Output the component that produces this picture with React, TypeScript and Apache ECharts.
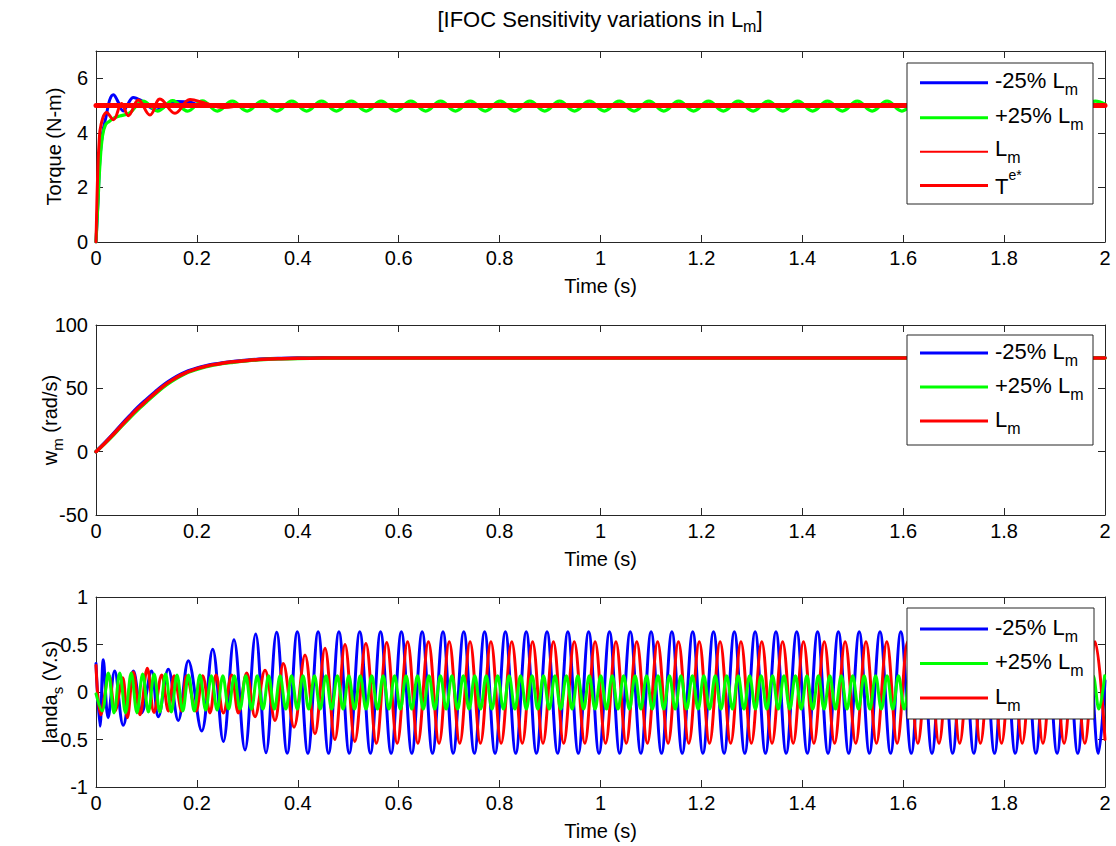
import React, { useEffect, useRef } from "react";
import * as echarts from "echarts";

const FONT = '"Liberation Sans", Arial, Helvetica, sans-serif';
const AXIS_COLOR = "#262626";

// ---------- tick labels ----------
const timeTicks = [0, 0.2, 0.4, 0.6, 0.8, 1, 1.2, 1.4, 1.6, 1.8, 2];
const torqueTicks = [0, 2, 4, 6];
const torqueAxisMax = 7;
const speedTicks = [-50, 0, 50, 100];
const landaTicks = [-1, -0.5, 0, 0.5, 1];

// ---------- panel 1 : torque (N-m) ----------
const torqueRef: [number, number][] = [[0, 5], [2, 5]];
const torqueMinus25: [number, number][] = [
  [0, 0], [0.004, 1.5], [0.008, 3.1], [0.013, 4.0], [0.02, 4.6], [0.027, 5.2], [0.0344, 5.4],
  [0.042, 5.2], [0.0542, 4.8], [0.063, 5.05], [0.074, 5.3], [0.088, 5.2], [0.1, 5.02],
  [0.1203, 4.84], [0.14, 5.0], [0.16, 5.15], [0.1863, 5.12], [0.2061, 5.0], [0.23, 4.97],
  [0.27, 5.02], [0.35, 5.0], [2, 5.0],
];
const torquePlus25: [number, number][] = [
  [0, 0], [0.004, 1.5], [0.008, 2.9], [0.013, 3.9], [0.019, 4.3], [0.026, 4.42], [0.036, 4.55],
  [0.047, 4.62], [0.066, 4.72], [0.093, 5.16], [0.1225, 4.8], [0.152, 5.18], [0.1815, 4.8],
  [0.211, 5.17], [0.2405, 4.8], [0.27, 5.16], [0.2995, 4.8], [0.329, 5.16], [0.3585, 4.8],
  [0.388, 5.16], [0.4175, 4.8], [0.447, 5.16], [0.4765, 4.8], [0.506, 5.16], [0.5355, 4.8],
  [0.565, 5.16], [0.5945, 4.8], [0.624, 5.16], [0.6535, 4.8], [0.683, 5.16], [0.7125, 4.8],
  [0.742, 5.16], [0.7715, 4.8], [0.801, 5.16], [0.8305, 4.8], [0.86, 5.16], [0.8895, 4.8],
  [0.919, 5.16], [0.9485, 4.8], [0.978, 5.16], [1.0075, 4.8], [1.037, 5.16], [1.0665, 4.8],
  [1.096, 5.16], [1.1255, 4.8], [1.155, 5.16], [1.1845, 4.8], [1.214, 5.16], [1.2435, 4.8],
  [1.273, 5.16], [1.3025, 4.8], [1.332, 5.16], [1.3615, 4.8], [1.391, 5.16], [1.4205, 4.8],
  [1.45, 5.16], [1.4795, 4.8], [1.509, 5.16], [1.5385, 4.8], [1.568, 5.16], [1.5975, 4.8],
  [1.627, 5.16], [1.6565, 4.8], [1.686, 5.16], [1.7155, 4.8], [1.745, 5.16], [1.7745, 4.8],
  [1.804, 5.16], [1.8335, 4.8], [1.863, 5.16], [1.8925, 4.8], [1.922, 5.16], [1.9515, 4.8],
  [1.981, 5.16], [2, 5.05],
];
const torqueLm: [number, number][] = [
  [0, 0], [0.003, 2.3], [0.006, 3.6], [0.01, 4.3], [0.0211, 4.75], [0.0344, 4.48], [0.0509, 5.08],
  [0.0641, 4.63], [0.0839, 5.2], [0.107, 4.65], [0.1268, 5.24], [0.1566, 4.72], [0.1863, 5.22],
  [0.215, 5.1], [0.2524, 4.93], [0.3, 5.02], [0.36, 5.0], [2, 5.0],
];

// ---------- panel 2 : speed (rad/s) ----------
const speedMinus25: [number, number][] = [
  [0, 0], [0.017, 6.8], [0.034, 14], [0.05, 21.2], [0.067, 28.4], [0.083, 35], [0.1, 41.2],
  [0.117, 47.1], [0.133, 52.4], [0.15, 57], [0.167, 60.8], [0.183, 63.7], [0.2, 66], [0.217, 67.7],
  [0.233, 69], [0.25, 70.1], [0.267, 70.9], [0.3, 72.2], [0.333, 73.1], [0.367, 73.6], [0.4, 73.9],
  [0.45, 74.1], [0.5, 74.2], [1, 74.2], [1.5, 74.2], [2, 74.2],
];
const speedPlus25: [number, number][] = [
  [0, 0], [0.017, 6.2], [0.034, 13], [0.05, 19.8], [0.067, 26.8], [0.083, 33.2], [0.1, 39.3],
  [0.117, 45.3], [0.133, 50.8], [0.15, 55.6], [0.167, 59.6], [0.183, 62.7], [0.2, 65], [0.217, 66.9],
  [0.233, 68.3], [0.25, 69.5], [0.267, 70.4], [0.3, 71.8], [0.333, 72.7], [0.367, 73.3], [0.4, 73.6],
  [0.45, 73.8], [0.5, 73.9], [1, 73.9], [1.5, 73.9], [2, 73.9],
];
const speedLm: [number, number][] = [
  [0, 0], [0.017, 6.5], [0.034, 13.5], [0.05, 20.5], [0.067, 27.6], [0.083, 34], [0.1, 40.2],
  [0.117, 46.2], [0.133, 51.6], [0.15, 56.3], [0.167, 60.2], [0.183, 63.2], [0.2, 65.5], [0.217, 67.3],
  [0.233, 68.7], [0.25, 69.8], [0.267, 70.7], [0.3, 72], [0.333, 72.9], [0.367, 73.4], [0.4, 73.7],
  [0.45, 73.9], [0.5, 74], [1, 74], [1.5, 74], [2, 74],
];

// ---------- panel 3 : stator flux landa_s (V.s), extrema ----------
const landaMinus25: [number, number][] = [
  [0, 0.3], [0.008, -0.36], [0.0145, 0.34], [0.024, -0.27], [0.037, 0.22], [0.054, -0.35],
  [0.074, 0.22], [0.0905, -0.22], [0.11, 0.22], [0.1235, -0.26], [0.1433, 0.24], [0.163, -0.3],
  [0.183, 0.33], [0.2095, -0.41], [0.2313, 0.45], [0.2524, -0.52], [0.2735, 0.55], [0.2953, -0.61],
  [0.3165, 0.61], [0.337, -0.64], [0.358, 0.63], [0.379, -0.645], [0.399, 0.635], [0.42, -0.645],
  [0.4403, 0.635], [0.461, -0.645], [0.4815, 0.635], [0.502, -0.645], [0.5228, 0.635], [0.544, -0.645],
  [0.564, 0.635], [0.585, -0.645], [0.6053, 0.635], [0.626, -0.645], [0.6465, 0.635], [0.667, -0.645],
  [0.6878, 0.635], [0.708, -0.645], [0.729, 0.635], [0.75, -0.645], [0.7703, 0.635], [0.791, -0.645],
  [0.8115, 0.635], [0.832, -0.645], [0.8528, 0.635], [0.873, -0.645], [0.894, 0.635], [0.915, -0.645],
  [0.9353, 0.635], [0.956, -0.645], [0.9765, 0.635], [0.997, -0.645], [1.0178, 0.635], [1.038, -0.645],
  [1.059, 0.635], [1.08, -0.645], [1.1003, 0.635], [1.121, -0.645], [1.1415, 0.635], [1.162, -0.645],
  [1.1828, 0.635], [1.203, -0.645], [1.224, 0.635], [1.245, -0.645], [1.2653, 0.635], [1.286, -0.645],
  [1.3065, 0.635], [1.327, -0.645], [1.3478, 0.635], [1.368, -0.645], [1.389, 0.635], [1.41, -0.645],
  [1.4303, 0.635], [1.451, -0.645], [1.4715, 0.635], [1.492, -0.645], [1.5128, 0.635], [1.533, -0.645],
  [1.554, 0.635], [1.575, -0.645], [1.5953, 0.635], [1.616, -0.645], [1.6365, 0.635], [1.657, -0.645],
  [1.6778, 0.635], [1.698, -0.645], [1.719, 0.635], [1.74, -0.645], [1.7603, 0.635], [1.781, -0.645],
  [1.8015, 0.635], [1.822, -0.645], [1.8428, 0.635], [1.863, -0.645], [1.884, 0.635], [1.905, -0.645],
  [1.9253, 0.635], [1.946, -0.645], [1.9665, 0.635], [1.987, -0.645], [2, 0.12],
];
const landaPlus25: [number, number][] = [
  [0, -0.02], [0.012, -0.2], [0.0244, 0.2], [0.0358, -0.22], [0.0471, 0.2], [0.0585, -0.22],
  [0.0698, 0.2], [0.0812, -0.22], [0.0925, 0.19], [0.1039, -0.21], [0.1152, 0.19], [0.1266, -0.21],
  [0.1379, 0.19], [0.1493, -0.21], [0.1606, 0.18], [0.172, -0.2], [0.1833, 0.18], [0.1947, -0.2],
  [0.206, 0.18], [0.2174, -0.19], [0.2287, 0.17], [0.2401, -0.19], [0.2514, 0.17], [0.2628, -0.18],
  [0.2741, 0.17], [0.2855, -0.18], [0.2968, 0.17], [0.3082, -0.18], [0.3195, 0.17], [0.3309, -0.18],
  [0.3422, 0.17], [0.3536, -0.18], [0.3649, 0.17], [0.3763, -0.18], [0.3876, 0.17], [0.399, -0.18],
  [0.4103, 0.17], [0.4217, -0.18], [0.433, 0.17], [0.4444, -0.18], [0.4557, 0.17], [0.4671, -0.18],
  [0.4784, 0.17], [0.4898, -0.18], [0.5011, 0.17], [0.5125, -0.18], [0.5238, 0.17], [0.5352, -0.18],
  [0.5465, 0.17], [0.5579, -0.18], [0.5692, 0.17], [0.5806, -0.18], [0.5919, 0.17], [0.6033, -0.18],
  [0.6146, 0.17], [0.626, -0.18], [0.6373, 0.17], [0.6487, -0.18], [0.66, 0.17], [0.6714, -0.18],
  [0.6827, 0.17], [0.6941, -0.18], [0.7054, 0.17], [0.7168, -0.18], [0.7281, 0.17], [0.7395, -0.18],
  [0.7508, 0.17], [0.7622, -0.18], [0.7735, 0.17], [0.7849, -0.18], [0.7962, 0.17], [0.8076, -0.18],
  [0.8189, 0.17], [0.8303, -0.18], [0.8416, 0.17], [0.853, -0.18], [0.8643, 0.17], [0.8757, -0.18],
  [0.887, 0.17], [0.8984, -0.18], [0.9097, 0.17], [0.9211, -0.18], [0.9324, 0.17], [0.9438, -0.18],
  [0.9551, 0.17], [0.9665, -0.18], [0.9778, 0.17], [0.9892, -0.18], [1.0005, 0.17], [1.0119, -0.18],
  [1.0232, 0.17], [1.0346, -0.18], [1.0459, 0.17], [1.0573, -0.18], [1.0686, 0.17], [1.08, -0.18],
  [1.0913, 0.17], [1.1027, -0.18], [1.114, 0.17], [1.1254, -0.18], [1.1367, 0.17], [1.1481, -0.18],
  [1.1594, 0.17], [1.1708, -0.18], [1.1821, 0.17], [1.1935, -0.18], [1.2048, 0.17], [1.2162, -0.18],
  [1.2275, 0.17], [1.2389, -0.18], [1.2502, 0.17], [1.2616, -0.18], [1.2729, 0.17], [1.2843, -0.18],
  [1.2956, 0.17], [1.307, -0.18], [1.3183, 0.17], [1.3297, -0.18], [1.341, 0.17], [1.3524, -0.18],
  [1.3637, 0.17], [1.3751, -0.18], [1.3864, 0.17], [1.3978, -0.18], [1.4091, 0.17], [1.4205, -0.18],
  [1.4318, 0.17], [1.4432, -0.18], [1.4545, 0.17], [1.4659, -0.18], [1.4772, 0.17], [1.4886, -0.18],
  [1.4999, 0.17], [1.5113, -0.18], [1.5226, 0.17], [1.534, -0.18], [1.5453, 0.17], [1.5567, -0.18],
  [1.568, 0.17], [1.5794, -0.18], [1.5907, 0.17], [1.6021, -0.18], [1.6134, 0.17], [1.6248, -0.18],
  [1.6361, 0.17], [1.6475, -0.18], [1.6588, 0.17], [1.6702, -0.18], [1.6815, 0.17], [1.6929, -0.18],
  [1.7042, 0.17], [1.7156, -0.18], [1.7269, 0.17], [1.7383, -0.18], [1.7496, 0.17], [1.761, -0.18],
  [1.7723, 0.17], [1.7837, -0.18], [1.795, 0.17], [1.8064, -0.18], [1.8177, 0.17], [1.8291, -0.18],
  [1.8404, 0.17], [1.8518, -0.18], [1.8631, 0.17], [1.8745, -0.18], [1.8858, 0.17], [1.8972, -0.18],
  [1.9085, 0.17], [1.9199, -0.18], [1.9312, 0.17], [1.9426, -0.18], [1.9539, 0.17], [1.9653, -0.18],
  [1.9766, 0.17], [1.988, -0.18], [1.9993, 0.17],
];
const landaLm: [number, number][] = [
  [0, 0.28], [0.0093, -0.24], [0.0258, 0.17], [0.0377, -0.2], [0.0529, 0.15], [0.0621, -0.27],
  [0.074, 0.21], [0.0872, -0.24], [0.1017, 0.25], [0.115, -0.215], [0.1302, 0.18], [0.1434, -0.2],
  [0.155, 0.17], [0.1698, -0.2], [0.1797, 0.17], [0.1982, -0.2], [0.2114, 0.17], [0.226, -0.22],
  [0.2379, 0.18], [0.2524, -0.22], [0.2689, 0.18], [0.2821, -0.22], [0.2987, 0.2], [0.3152, -0.26],
  [0.335, 0.23], [0.3548, -0.3], [0.3713, 0.3], [0.3925, -0.37], [0.4143, 0.39], [0.434, -0.44],
  [0.4539, 0.46], [0.4735, -0.5], [0.4936, 0.5], [0.5131, -0.52], [0.535, 0.51], [0.5557, -0.54],
  [0.5763, 0.52], [0.597, -0.54], [0.6176, 0.53], [0.638, -0.54], [0.6589, 0.53], [0.68, -0.54],
  [0.7002, 0.53], [0.721, -0.54], [0.7415, 0.53], [0.762, -0.54], [0.7828, 0.53], [0.803, -0.54],
  [0.8241, 0.53], [0.845, -0.54], [0.8654, 0.53], [0.886, -0.54], [0.9067, 0.53], [0.927, -0.54],
  [0.948, 0.53], [0.969, -0.54], [0.9893, 0.53], [1.01, -0.54], [1.0306, 0.53], [1.051, -0.54],
  [1.0719, 0.53], [1.093, -0.54], [1.1132, 0.53], [1.134, -0.54], [1.1545, 0.53], [1.175, -0.54],
  [1.1958, 0.53], [1.216, -0.54], [1.2371, 0.53], [1.258, -0.54], [1.2784, 0.53], [1.299, -0.54],
  [1.3197, 0.53], [1.34, -0.54], [1.361, 0.53], [1.382, -0.54], [1.4023, 0.53], [1.423, -0.54],
  [1.4436, 0.53], [1.464, -0.54], [1.4849, 0.53], [1.506, -0.54], [1.5262, 0.53], [1.547, -0.54],
  [1.5675, 0.53], [1.588, -0.54], [1.6088, 0.53], [1.629, -0.54], [1.6501, 0.53], [1.671, -0.54],
  [1.6914, 0.53], [1.712, -0.54], [1.7327, 0.53], [1.753, -0.54], [1.774, 0.53], [1.795, -0.54],
  [1.8153, 0.53], [1.836, -0.54], [1.8566, 0.53], [1.877, -0.54], [1.8979, 0.53], [1.919, -0.54],
  [1.9392, 0.53], [1.96, -0.54], [1.9805, 0.53], [2, -0.5],
];

// ---------- legend labels ----------
const legendMinus = "{a|-25% L}{s|m}";
const legendPlus = "{a|+25% L}{s|m}";
const legendLm = "{a|L}{s|m}";
const legendRef = "{b|T}{p|e*}";

// ---------- layout / styles ----------
const GRIDS = [
  { left: 96, top: 51, width: 1009, height: 191 },
  { left: 96, top: 325, width: 1009, height: 190 },
  { left: 96, top: 597, width: 1009, height: 190 },
];
const BLUE = "#0000ff";
const GREEN = "#00ff00";
const RED = "#ff0000";

const richText = {
  a: { fontSize: 22, fontFamily: FONT, fill: "#000", color: "#000", lineHeight: 34, verticalAlign: "middle" },
  b: { fontSize: 22, fontFamily: FONT, fill: "#000", color: "#000", lineHeight: 38, verticalAlign: "middle" },
  s: { fontSize: 16, fontFamily: FONT, fill: "#000", color: "#000", lineHeight: 14, verticalAlign: "bottom" },
  p: { fontSize: 14, fontFamily: FONT, fill: "#000", color: "#000", lineHeight: 14, verticalAlign: "top" },
};

function App() {
  const ref = useRef<HTMLDivElement>(null);

  useEffect(() => {
    if (!ref.current) return;
    const chart = echarts.init(ref.current, undefined, { renderer: "svg" });

    const yDefs = [
      { min: torqueTicks[0], max: torqueAxisMax, interval: torqueTicks[1] - torqueTicks[0],
        name: "Torque (N-m)", rich: false, gap: 32 },
      { min: speedTicks[0], max: speedTicks[speedTicks.length - 1], interval: speedTicks[1] - speedTicks[0],
        name: "{a|w}{s|m}{a| (rad/s)}", rich: true, gap: 31 },
      { min: landaTicks[0], max: landaTicks[landaTicks.length - 1], interval: landaTicks[1] - landaTicks[0],
        name: "{a|landa}{s|s}{a| (V.s)}", rich: true, gap: 31 },
    ];

    const axisLineStyle = { color: AXIS_COLOR, width: 1 };
    const nameRich = {
      a: { fontSize: 20, fontFamily: FONT, color: "#000", lineHeight: 30 },
      s: { fontSize: 15, fontFamily: FONT, color: "#000", lineHeight: 15, verticalAlign: "bottom" },
    };

    const xMin = timeTicks[0];
    const xMax = timeTicks[timeTicks.length - 1];
    const xStep = timeTicks[1] - timeTicks[0];

    const xBottom = GRIDS.map((_, i) => ({
      type: "value", gridIndex: i, position: "bottom", min: xMin, max: xMax, interval: xStep,
      axisLine: { show: true, onZero: false, lineStyle: axisLineStyle },
      axisTick: { show: true, inside: true, length: 7, lineStyle: axisLineStyle },
      axisLabel: { show: true, fontSize: 20, fontFamily: FONT, color: "#000", margin: 6 },
      splitLine: { show: false },
      name: "Time (s)", nameLocation: "middle", nameGap: 34, nameMoveOverlap: false,
      nameTextStyle: { fontSize: 20, fontFamily: FONT, color: "#000" },
    }));
    const xTop = GRIDS.map((_, i) => ({
      type: "value", gridIndex: i, position: "top", min: xMin, max: xMax, interval: xStep,
      axisLine: { show: true, onZero: false, lineStyle: axisLineStyle },
      axisTick: { show: true, inside: true, length: 7, lineStyle: axisLineStyle },
      axisLabel: { show: false }, splitLine: { show: false },
    }));
    const yLeft = yDefs.map((d, i) => ({
      type: "value", gridIndex: i, position: "left", min: d.min, max: d.max, interval: d.interval,
      axisLine: { show: true, onZero: false, lineStyle: axisLineStyle },
      axisTick: { show: true, inside: true, length: 7, lineStyle: axisLineStyle },
      axisLabel: { show: true, fontSize: 20, fontFamily: FONT, color: "#000", margin: 8, showMaxLabel: i !== 0 },
      splitLine: { show: false },
      name: d.name, nameLocation: "middle", nameGap: d.gap, nameMoveOverlap: false,
      nameTextStyle: d.rich
        ? { fontSize: 20, fontFamily: FONT, color: "#000", rich: nameRich }
        : { fontSize: 20, fontFamily: FONT, color: "#000" },
    }));
    const yRight = yDefs.map((d, i) => ({
      type: "value", gridIndex: i, position: "right", min: d.min, max: d.max, interval: d.interval,
      axisLine: { show: true, onZero: false, lineStyle: axisLineStyle },
      axisTick: { show: true, inside: true, length: 7, lineStyle: axisLineStyle },
      axisLabel: { show: false }, splitLine: { show: false },
    }));

    const line = (name: string, data: [number, number][], color: string, width: number,
      idx: number, smooth: number | boolean) => ({
      type: "line", name, data, xAxisIndex: idx, yAxisIndex: idx, showSymbol: false, symbol: "none",
      smooth, lineStyle: { color, width, cap: "round", join: "round" }, itemStyle: { color },
      silent: true, clip: true, animation: false,
    });

    const series = [
      line("-25% Lm", torqueMinus25, BLUE, 3, 0, 0.4),
      line("+25% Lm", torquePlus25, GREEN, 3.2, 0, 0.4),
      line("Lm", torqueLm, RED, 3, 0, 0.4),
      line("Te*", torqueRef, RED, 5, 0, false),
      line("-25% Lm", speedMinus25, BLUE, 3.5, 1, 0.4),
      line("+25% Lm", speedPlus25, GREEN, 3.5, 1, 0.4),
      line("Lm", speedLm, RED, 3.5, 1, 0.4),
      line("-25% Lm", landaMinus25, BLUE, 3, 2, 0.37),
      line("Lm", landaLm, RED, 3, 2, 0.37),
      line("+25% Lm", landaPlus25, GREEN, 3, 2, 0.37),
    ];

    const legendBoxes = [
      { x: 907, y: 63, w: 186, h: 141, rows: [82.7, 117.7, 151.7, 185.5], dy: [-2, -2, -3, 1],
        items: [[legendMinus, BLUE, 3], [legendPlus, GREEN, 3], [legendLm, RED, 2], [legendRef, RED, 3]] },
      { x: 907, y: 335, w: 186, h: 110, rows: [353, 387, 421], dy: [-2, -2, -2],
        items: [[legendMinus, BLUE, 3], [legendPlus, GREEN, 3], [legendLm, RED, 3]] },
      { x: 907, y: 608, w: 187, h: 111, rows: [629, 663.5, 698], dy: [-2, -2, -2],
        items: [[legendMinus, BLUE, 3], [legendPlus, GREEN, 3], [legendLm, RED, 3]] },
    ];

    const graphic: any[] = [
      {
        type: "text", x: 600, y: 19, z: 100,
        style: {
          text: "{a|[IFOC Sensitivity variations in L}{s|m}{a|]}",
          align: "center", verticalAlign: "middle",
          rich: {
            a: { fontSize: 22, fontFamily: FONT, fill: "#000", lineHeight: 30, verticalAlign: "middle" },
            s: { fontSize: 16, fontFamily: FONT, fill: "#000", lineHeight: 15, verticalAlign: "bottom" },
          },
        },
      },
    ];
    legendBoxes.forEach((lb) => {
      graphic.push({
        type: "rect", z: 100, shape: { x: lb.x, y: lb.y, width: lb.w, height: lb.h },
        style: { fill: "#fff", stroke: AXIS_COLOR, lineWidth: 1 },
      });
      lb.items.forEach((it, k) => {
        const yy = lb.rows[k];
        graphic.push({
          type: "line", z: 101, shape: { x1: 920, y1: yy, x2: 988, y2: yy },
          style: { stroke: it[1] as string, lineWidth: it[2] as number },
        });
        graphic.push({
          type: "text", z: 101, x: 995, y: yy + lb.dy[k],
          style: { text: it[0] as string, align: "left", verticalAlign: "middle", rich: richText },
        });
      });
    });

    chart.setOption({
      animation: false,
      backgroundColor: "#ffffff",
      textStyle: { fontFamily: FONT },
      grid: GRIDS.map((g) => ({ ...g, containLabel: false, show: false })),
      xAxis: [...xBottom, ...xTop],
      yAxis: [...yLeft, ...yRight],
      series,
      graphic,
    } as any);

    return () => chart.dispose();
  }, []);

  return (
    <div
      ref={ref}
      style={{ position: "fixed", left: 0, top: 0, width: 1116, height: 846, background: "#fff" }}
    />
  );
}

export default App;
